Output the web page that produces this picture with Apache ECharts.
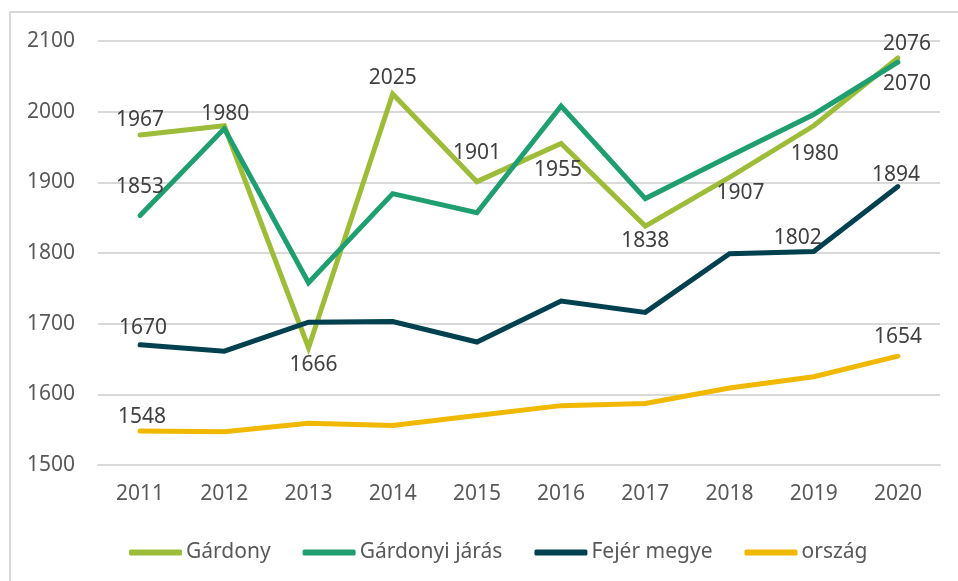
<!DOCTYPE html>
<html>
<head>
<meta charset="utf-8">
<script src="https://cdn.jsdelivr.net/npm/echarts@6/dist/echarts.min.js"></script>
<style>
  html, body { margin: 0; padding: 0; background: #fff; }
  #chart { width: 958px; height: 581px; }
</style>
</head>
<body>
<div id="chart"></div>
<script>
const years = ['2011', '2012', '2013', '2014', '2015', '2016', '2017', '2018', '2019', '2020']
const seriesNames = ['Gárdony', 'Gárdonyi járás', 'Fejér megye', 'ország']

const gardony = [1967, 1980, 1666, 2025, 1901, 1955, 1838, 1907, 1980, 2076]
const gardonyiJaras = [1853, 1976, 1758, 1884, 1857, 2008, 1877, 1937, 1996, 2070]
const fejerMegye = [1670, 1661, 1702, 1703, 1674, 1732, 1716, 1799, 1802, 1894]
const orszag = [1548, 1547, 1559, 1556, 1570, 1584, 1587, 1609, 1625, 1654]

// label offsets from the point [dx, dy] in px, null = no label
const gardonyLabelOff = [[0, -15], [1, -12], [5, 17], [0, -16], [0, -29], [-3, 27], [0, 15], [11, 16], [1, 28], [9, -14]]
const jarasLabelOff = [[0, -29], null, null, null, null, null, null, null, null, [9, 22]]
const fejerLabelOff = [[3, -17], null, null, null, null, null, null, null, [-16, -14], [-2, -12]]
const orszagLabelOff = [[2, -14], null, null, null, null, null, null, null, null, [0, -19]]

const colors = ['#9dbd3a', '#1f9e6f', '#01404f', '#f1b800']
const fontFamily = '"Noto Sans", sans-serif'

function withLabels(values, offsets) {
  return values.map((v, i) => {
    const off = offsets[i]
    return {
      value: v,
      label: off ? { show: true, position: 'inside', offset: off } : { show: false }
    }
  })
}

function makeSeries(name, values, offsets, color) {
  return {
    name: name,
    type: 'line',
    data: withLabels(values, offsets),
    symbol: 'circle',
    symbolSize: 1,
    showSymbol: true,
    itemStyle: { color: color },
    lineStyle: { color: color, width: 5, cap: 'round', join: 'miter' },
    label: {
      color: '#404040',
      fontSize: 21,
      fontFamily: fontFamily
    },
    emphasis: { disabled: true },
    animation: false
  }
}

const chart = echarts.init(document.getElementById('chart'))
chart.setOption({
  backgroundColor: '#fff',
  textStyle: { fontFamily: fontFamily },
  graphic: [
    {
      type: 'rect',
      shape: { x: 10, y: 12, width: 970, height: 600 },
      style: { fill: 'none', stroke: '#d9d9d9', lineWidth: 2 },
      silent: true,
      z: -1
    }
  ],
  grid: {
    left: 98,
    right: 18,
    top: 41,
    bottom: 116
  },
  legend: {
    data: seriesNames,
    left: 124,
    top: 537,
    icon: 'roundRect',
    itemWidth: 53,
    itemHeight: 6,
    itemGap: 32,
    textStyle: { color: '#595959', fontSize: 21, fontFamily: fontFamily, padding: [0, 0, 0, -1] }
  },
  xAxis: {
    type: 'category',
    data: years,
    boundaryGap: true,
    axisLine: { show: true, lineStyle: { color: '#d9d9d9', width: 2 } },
    axisTick: { show: false },
    axisLabel: { color: '#595959', fontSize: 21, margin: 19, fontFamily: fontFamily }
  },
  yAxis: {
    type: 'value',
    min: 1500,
    max: 2100,
    interval: 100,
    axisLine: { show: false },
    axisTick: { show: false },
    splitLine: { lineStyle: { color: '#d9d9d9', width: 2 } },
    axisLabel: {
      color: '#595959',
      fontSize: 21,
      margin: 23,
      fontFamily: fontFamily,
      formatter: v => String(v)
    }
  },
  series: [
    makeSeries(seriesNames[0], gardony, gardonyLabelOff, colors[0]),
    makeSeries(seriesNames[1], gardonyiJaras, jarasLabelOff, colors[1]),
    makeSeries(seriesNames[2], fejerMegye, fejerLabelOff, colors[2]),
    makeSeries(seriesNames[3], orszag, orszagLabelOff, colors[3])
  ]
})
</script>
</body>
</html>
